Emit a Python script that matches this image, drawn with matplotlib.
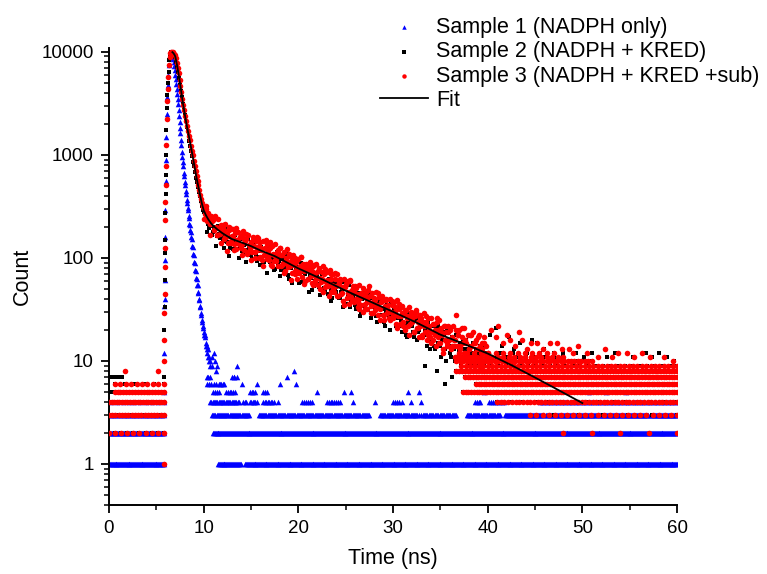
import numpy as np
import matplotlib
matplotlib.use("Agg")
import matplotlib.pyplot as plt
from matplotlib.ticker import FixedLocator, MultipleLocator, LogLocator, NullFormatter

plt.rcParams["font.family"] = ["Liberation Sans", "DejaVu Sans"]

# ---------------- data ----------------
labels = ["Sample 1 (NADPH only)", "Sample 2 (NADPH + KRED)",
          "Sample 3 (NADPH + KRED +sub)", "Fit"]

# rising edge (time ns, counts)
s1_rise_t = [5.82, 5.84, 5.86, 5.88, 5.90, 5.92, 5.94, 5.96, 5.99, 6.02,
             6.06, 6.10, 6.15, 6.20, 6.26, 6.32, 6.38, 6.45, 6.52]
s1_rise_c = [5, 12, 34, 40, 61, 95, 160, 290, 560, 900,
             1500, 2500, 3600, 4800, 6000, 7400, 8600, 9500, 10000]
s2_rise_t = [5.83, 5.85, 5.87, 5.89, 5.91, 5.93, 5.95, 5.97, 6.00, 6.03,
             6.07, 6.12, 6.17, 6.23, 6.29, 6.36, 6.44, 6.52]
s2_rise_c = [7, 20, 33, 61, 111, 150, 270, 420, 640, 1000,
             1750, 2870, 3800, 4970, 6400, 8300, 9300, 9900]
s3_rise_t = [5.82, 5.84, 5.86, 5.88, 5.90, 5.92, 5.94, 5.96, 5.98, 6.01,
             6.05, 6.10, 6.15, 6.20, 6.26, 6.32, 6.40, 6.48, 6.56]
s3_rise_c = [10, 16, 29, 45, 82, 124, 233, 350, 511, 771,
             1250, 2200, 3300, 4300, 5650, 7400, 8800, 9700, 10000]

# sample 1 decay, channels every 0.05 ns from 6.60 ns
s1_decay_c = [10000, 9750, 9400, 8900, 8500, 7900, 7300, 6600,
              6000, 5450, 4900, 4350, 3900, 3450, 3100, 2700, 2400, 2100,
              1830, 1620, 1400, 1240, 1070, 960, 850, 770, 670, 620,
              550, 505, 445, 415, 365, 340, 305, 290, 255, 243,
              215, 208, 186, 178, 158, 151, 131, 127, 109, 106,
              91, 89, 77, 75, 64, 63, 54, 55, 47, 46,
              40, 39, 33, 34, 28, 29, 25, 24, 21, 22,
              19, 18, 17, 18, 15, 14, 14, 13, 12, 13, 11, 11, 10, 10, 9]

# samples 2 and 3 near the peak, every 0.1 ns (s2 from 6.60, s3 from 6.65)
s2_peak_c = [9900, 9800, 9500, 9200, 8800, 8000, 7100, 6300, 5500, 4800,
             4150, 3600, 3100, 2700, 2420, 2130, 1880, 1700, 1520, 1370,
             1220, 1090, 970, 860, 770, 680, 600, 540, 485, 440,
             395, 355, 320, 290]
s3_peak_c = [10000, 9850, 9600, 9250, 8700, 7800, 6950, 6150, 5350, 4650,
             4050, 3500, 3050, 2700, 2400, 2120, 1890, 1700, 1530, 1380,
             1230, 1100, 985, 880, 780, 700, 620, 560, 505, 455,
             410, 372, 340, 312]

# slow tail, sample 2: every 0.2 ns from 10.0 ns and from 10.1 ns
s2_band_c = [278, 238, 249, 194, 203, 180, 194, 164, 171, 160,
             145, 163, 146, 165, 125, 140, 149, 122, 138, 124,
             128, 108, 137, 118, 125, 107, 135, 113, 93, 116,
             101, 122, 91, 104, 121, 91, 103, 77, 105, 89,
             93, 76, 102, 80, 89, 63, 79, 95, 69, 78,
             70, 81, 58, 73, 83, 61, 66, 49, 72, 60,
             66, 52, 59, 71, 48, 54, 63, 49, 41, 54,
             47, 58, 41, 48, 58, 36, 43, 47, 38, 43,
             35, 45, 38, 30, 46, 35, 38, 31, 45, 33,
             37, 27, 33, 40, 28, 32, 22, 35, 27, 37,
             26, 29, 21, 32, 25, 22, 28, 18, 24, 29,
             22, 17, 26, 19, 22, 26, 17, 20, 14, 21,
             16, 22, 13, 18, 22, 14, 16, 18, 10, 16,
             12, 17, 13, 10, 18, 13, 11, 16, 8, 13,
             12, 9, 15, 11, 13, 8, 14, 10, 9, 14,
             10]
s2_band2_c = [289, 179, 213, 257, 166, 199, 129, 204, 155, 167,
              126, 197, 143, 104, 158, 123, 166, 135, 100, 151,
              117, 134, 91, 152, 118, 98, 152, 106, 121, 86,
              127, 92, 105, 72, 127, 94, 106, 78, 113, 82,
              66, 98, 83, 109, 68, 83, 57, 95, 69, 81,
              57, 89, 61, 70, 78, 47, 64, 81, 53, 65,
              56, 44, 69, 51, 74, 45, 55, 38, 59, 49,
              60, 41, 47, 33, 51, 40, 55, 33, 44, 39,
              32, 46, 27, 40, 34, 46, 31, 39, 26, 41,
              32, 24, 37, 28, 40, 24, 30, 34, 20, 27,
              31, 22, 26, 33, 19, 27, 22, 17, 28, 23,
              19, 25, 16, 20, 27, 17, 22, 18, 24, 13,
              19, 14, 21, 15, 17, 11, 19, 13, 20, 14,
              11, 16, 14, 18, 11, 15, 10, 13, 16, 11,
              14, 9, 11, 15, 10, 12, 9, 14, 10, 12]

# slow tail, sample 3: every 0.1 ns from 10.0 ns and every 0.2 ns from 10.05 ns
s3_band_c = [305, 268, 296, 258, 227, 270, 237, 213, 255, 227,
             234, 185, 242, 200, 168, 236, 197, 172, 208, 178,
             209, 154, 185, 214, 159, 170, 138, 186, 193, 145,
             164, 192, 137, 173, 123, 149, 178, 137, 160, 125,
             168, 137, 181, 120, 145, 154, 109, 165, 132, 122,
             144, 115, 159, 130, 100, 145, 118, 156, 130, 101,
             142, 118, 96, 146, 107, 124, 149, 98, 116, 106,
             124, 85, 131, 109, 94, 135, 100, 113, 84, 118,
             105, 124, 83, 107, 89, 113, 74, 93, 121, 81,
             104, 84, 94, 71, 107, 85, 74, 99, 91, 62,
             98, 72, 83, 101, 65, 87, 74, 59, 87, 76,
             63, 83, 91, 67, 74, 54, 83, 68, 60, 88,
             73, 55, 80, 64, 58, 73, 47, 69, 78, 58,
             73, 53, 61, 77, 47, 63, 54, 69, 47, 62,
             53, 69, 43, 58, 61, 45, 52, 38, 62, 52,
             56, 41, 59, 47, 36, 61, 42, 49, 53, 37,
             53, 40, 45, 33, 54, 41, 35, 46, 30, 43,
             36, 47, 42, 32, 49, 37, 43, 29, 46, 37,
             41, 31, 47, 35, 28, 42, 32, 37, 43, 28,
             39, 25, 34, 40, 29, 35, 26, 40, 30, 35,
             26, 37, 30, 23, 39, 27, 32, 23, 33, 29,
             34, 24, 29, 20, 31, 26, 22, 33, 23, 28,
             24, 29, 19, 27, 30, 21, 24, 17, 28, 22,
             26, 18, 24, 29, 19, 24, 16, 26, 20, 17,
             26, 19, 16, 23, 20, 14, 24, 17, 20, 25,
             15, 21, 18, 13, 22, 16, 19, 14, 22, 16,
             20, 13, 17, 22, 14, 16, 11, 20, 14, 18,
             20, 13, 11, 17, 15, 21, 12, 15, 10, 18,
             13, 18, 14, 10, 19, 11, 15, 9, 16, 13,
             17, 10, 14, 9, 15, 12, 17, 10, 14, 11,
             12]
s3_band2_c = [237, 316, 245, 168, 248, 188, 256, 166, 197, 139,
              205, 160, 116, 201, 139, 159, 120, 196, 141, 160,
              107, 153, 169, 114, 133, 95, 150, 114, 158, 99,
              125, 84, 108, 135, 95, 143, 84, 106, 93, 115,
              124, 85, 72, 100, 87, 108, 61, 97, 70, 80,
              73, 102, 79, 56, 86, 63, 76, 57, 85, 63,
              74, 50, 62, 84, 52, 61, 43, 69, 50, 71,
              43, 56, 63, 46, 35, 56, 46, 60, 38, 47,
              51, 37, 32, 46, 51, 32, 39, 53, 34, 29,
              39, 34, 46, 25, 38, 28, 39, 31, 25, 38,
              27, 33, 21, 36, 27, 22, 31, 27, 18, 30,
              26, 19, 31, 21, 26, 17, 22, 27, 18, 22,
              15, 23, 18, 26, 15, 19, 12, 22, 15, 19,
              21, 14, 16, 11, 18, 14, 21, 12, 16, 11,
              13, 18, 10, 15, 11, 18, 10, 13, 15, 11]

# flat runs of equal counts: (count, from ns, to ns, number of points)
s1_runs = [(1, 0.0, 5.8, 60), (2, 0.0, 5.8, 55), (3, 0.0, 5.8, 35), (4, 0.2, 5.8, 10),
           (1, 11.5, 13.9, 25), (1, 14.4, 60.0, 470), (2, 10.95, 60.0, 480),
           (3, 10.9, 14.8, 35), (3, 15.8, 27.5, 100), (3, 28.6, 32.7, 35),
           (3, 33.0, 36.7, 30), (3, 37.8, 41.3, 30), (3, 41.8, 60.0, 170),
           (4, 10.7, 13.7, 25), (4, 14.2, 14.5, 3), (4, 14.9, 15.6, 6),
           (4, 16.3, 17.4, 8), (4, 20.4, 21.4, 6), (4, 23.0, 24.4, 8),
           (4, 30.0, 30.9, 5), (4, 38.7, 39.2, 4), (4, 40.1, 41.7, 8),
           (4, 45.5, 60.0, 60), (5, 11.0, 11.6, 4), (5, 12.4, 13.3, 6),
           (5, 14.9, 15.4, 4), (5, 16.3, 16.7, 3), (6, 10.3, 12.1, 8),
           (7, 10.3, 10.7, 3), (7, 13.0, 13.5, 3)]
s2_runs = [(2, 0.0, 5.8, 10), (3, 0.0, 5.8, 18), (4, 0.0, 5.8, 20), (5, 0.0, 5.8, 18),
           (6, 0.6, 5.8, 6), (7, 0.1, 1.4, 4),
           (12, 37.0, 47.0, 8), (11, 37.0, 48.0, 12), (10, 36.7, 51.0, 20),
           (9, 37.2, 60.0, 30), (8, 36.7, 60.0, 45), (7, 37.6, 60.0, 45),
           (6, 38.8, 60.0, 40), (5, 37.4, 60.0, 35), (4, 41.0, 60.0, 15),
           (3, 47.0, 60.0, 6)]
s3_runs = [(2, 0.0, 5.8, 10), (3, 0.0, 5.8, 18), (4, 0.0, 5.8, 22), (5, 0.6, 5.8, 18),
           (6, 0.6, 5.8, 10),
           (12, 37.0, 47.0, 14), (11, 37.0, 48.0, 20), (10, 36.7, 51.0, 40),
           (9, 37.2, 60.0, 50), (8, 36.7, 60.0, 80), (7, 37.6, 60.0, 80),
           (6, 38.8, 60.0, 80), (5, 37.4, 60.0, 80), (4, 41.0, 60.0, 50),
           (3, 44.5, 60.0, 25), (2, 48.0, 60.0, 5)]

# single stray points (time ns, counts)
s1_extra_t = [10.85, 11.1, 11.2, 11.4, 11.3, 13.5, 13.2, 19.5, 18.8, 10.9,
              11.7, 12.0, 14.0, 15.6, 18.1, 19.8, 17.9, 22.0, 24.8, 25.6,
              25.8, 28.1, 31.6, 31.9, 32.7, 33.0, 39.6, 50.7, 52.5, 54.6]
s1_extra_c = [11, 12, 10, 9, 8, 9, 7, 8, 7, 9,
              6, 6, 6, 6, 6, 6, 4, 5, 5, 5,
              4, 4, 5, 4, 5, 4, 5, 5, 5, 5]
s2_extra_t = [40.2, 40.9, 41.5, 42.2, 42.8, 43.4, 44.0, 44.7, 45.2, 46.0,
              47.0, 48.0, 49.3, 50.2, 51.0, 52.6, 53.5, 55.3, 56.7, 57.4,
              58.1, 58.9, 59.7, 33.4, 34.6, 35.5, 36.2, 37.6]
s2_extra_c = [18, 21, 14, 17, 13, 15, 12, 16, 15, 13,
              12, 12, 12, 11, 12, 11, 12, 11, 12, 11,
              12, 11, 10, 9, 8, 6, 7, 5]
s3_extra_t = [40.4, 40.9, 41.1, 41.6, 42.0, 42.4, 42.9, 43.3, 43.6, 44.1,
              44.6, 45.2, 45.8, 46.6, 47.3, 47.8, 48.6, 49.0, 49.5, 50.5,
              51.6, 52.4, 53.1, 53.8, 54.7, 55.5, 56.3, 57.1, 58.6, 59.6,
              1.7, 5.2, 5.8, 36.7]
s3_extra_c = [20, 17, 22, 15, 18, 16, 14, 19, 16, 13,
              15, 15, 13, 15, 15, 13, 13, 12, 14, 12,
              11, 13, 11, 12, 12, 11, 12, 11, 11, 10,
              8, 8, 1, 28]

fit_t = [6.7, 6.8, 6.9, 7.0, 7.2, 7.4, 7.6, 7.8, 8.0, 8.2, 8.4, 8.6, 8.8,
         9.0, 9.2, 9.4, 9.6, 9.8, 10.0, 10.25, 10.5, 10.75, 11.0, 11.5, 12.0,
         12.5, 13.0, 14.0, 15.0, 16.0, 17.5, 20.0, 22.5, 25.0, 27.5, 30.0,
         32.5, 35.0, 37.5, 40.0, 42.5, 45.0, 47.5, 50.0]
fit_c = [9900, 9700, 9400, 9000, 7300, 5700, 4300, 3200, 2500, 1950, 1580,
         1270, 1010, 800, 630, 510, 415, 340, 290, 258, 235, 218, 205, 187,
         173, 162, 152, 141, 130, 118, 104, 79, 62, 48, 38, 30, 23.5, 18,
         14.6, 11.8, 9.1, 6.9, 5.2, 3.9]


def channels(start, step, counts):
    return start + step * np.arange(len(counts))


def runs_to_points(runs):
    ts, cs = [], []
    for level, t0, t1, n in runs:
        ts.extend(np.linspace(t0, t1, n))
        cs.extend([level] * n)
    return ts, cs


def collect(rise_t, rise_c, pieces, runs, extra_t, extra_c):
    t = list(rise_t)
    c = list(rise_c)
    for start, step, counts in pieces:
        t.extend(channels(start, step, counts))
        c.extend(counts)
    rt, rc = runs_to_points(runs)
    return (np.array(t + rt + list(extra_t)), np.array(c + rc + list(extra_c)))


s1_t, s1_c = collect(s1_rise_t, s1_rise_c, [(6.60, 0.05, s1_decay_c)],
                     s1_runs, s1_extra_t, s1_extra_c)
s2_t, s2_c = collect(s2_rise_t, s2_rise_c,
                     [(6.60, 0.1, s2_peak_c), (10.0, 0.2, s2_band_c),
                      (10.1, 0.2, s2_band2_c)],
                     s2_runs, s2_extra_t, s2_extra_c)
s3_t, s3_c = collect(s3_rise_t, s3_rise_c,
                     [(6.65, 0.1, s3_peak_c), (10.0, 0.1, s3_band_c),
                      (10.05, 0.2, s3_band2_c)],
                     s3_runs, s3_extra_t, s3_extra_c)

# ---------------- figure ----------------
fig = plt.figure(figsize=(7.67, 5.74), dpi=100)
ax = fig.add_axes([0.1421, 0.1202, 0.7406, 0.7957])

ax.scatter(s1_t, s1_c, s=16, marker="^", color="#0000ff", linewidths=0,
           label=labels[0], zorder=2)
ax.scatter(s2_t, s2_c, s=12, marker="s", color="#000000", linewidths=0,
           label=labels[1], zorder=3)
ax.scatter(s3_t, s3_c, s=16, marker="o", color="#ff0000", linewidths=0,
           label=labels[2], zorder=4)
ax.plot(fit_t, fit_c, color="black", linewidth=1.3, label=labels[3], zorder=5)

ax.set_yscale("log")
ax.set_xlim(0, 60)
ax.set_ylim(0.4, 10800)

ax.xaxis.set_major_locator(MultipleLocator(10))
ax.xaxis.set_minor_locator(MultipleLocator(5))
ax.yaxis.set_major_locator(FixedLocator([1, 10, 100, 1000, 10000]))
ax.yaxis.set_minor_locator(LogLocator(base=10, subs=np.arange(2, 10)))
ax.yaxis.set_minor_formatter(NullFormatter())
ax.set_yticklabels(["1", "10", "100", "1000", "10000"])

for side in ["top", "right"]:
    ax.spines[side].set_visible(False)
for side in ["left", "bottom"]:
    ax.spines[side].set_linewidth(1.4)

ax.tick_params(which="major", direction="out", length=6, width=1.3,
               labelsize=13.5, pad=5)
ax.tick_params(which="minor", direction="out", length=3.5, width=1.1)

ax.set_xlabel("Time (ns)", fontsize=15.5, labelpad=8)
ax.set_ylabel("Count", fontsize=15.5, labelpad=6)

fig.legend(loc="upper left", bbox_to_anchor=(0.482, 0.989), frameon=False,
           fontsize=15.5, borderpad=0, handlelength=2.2, handletextpad=0.4,
           labelspacing=0.15, scatterpoints=1, markerscale=0.8)

fig.savefig("out.png", dpi=100)
